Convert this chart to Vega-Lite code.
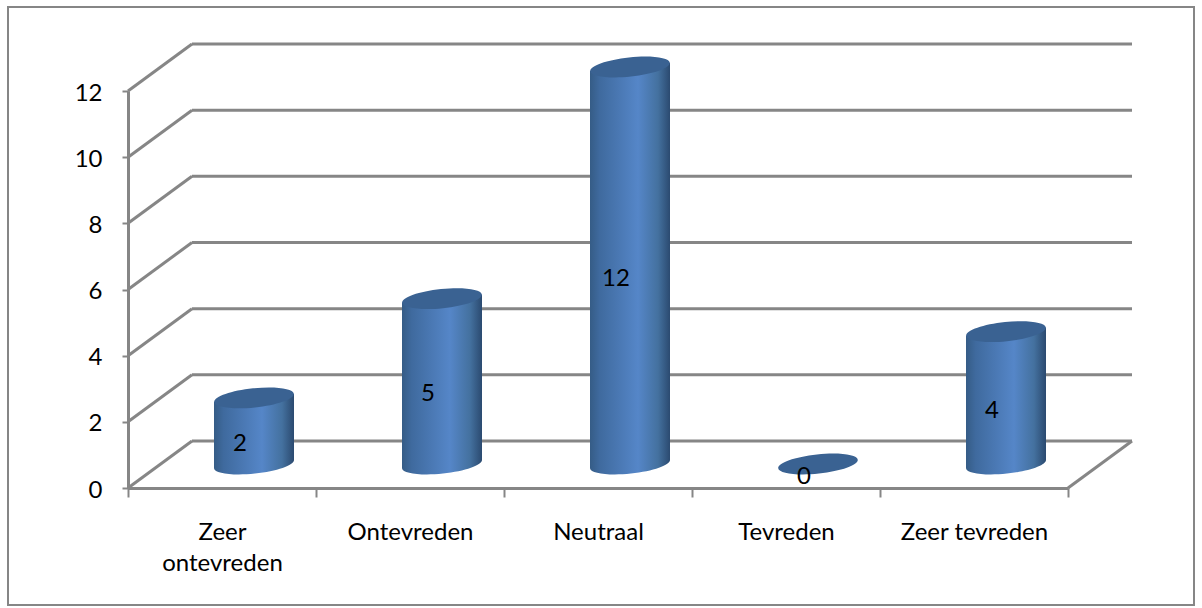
{
  "$schema": "https://vega.github.io/schema/vega-lite/v6.json",
  "width": 1186,
  "height": 598,
  "padding": {"left": 8, "top": 7, "right": 8, "bottom": 3},
  "autosize": "none",
  "background": "white",
  "config": {
    "view": {"stroke": "#868686", "strokeWidth": 2},
    "font": "Lato"
  },
  "datasets": {
    "answers": [
      {"category": "Zeer ontevreden", "count": 2},
      {"category": "Ontevreden", "count": 5},
      {"category": "Neutraal", "count": 12},
      {"category": "Tevreden", "count": 0},
      {"category": "Zeer tevreden", "count": 4}
    ],
    "ticks": [
      {"tick": 0}, {"tick": 2}, {"tick": 4}, {"tick": 6}, {"tick": 8}, {"tick": 10}, {"tick": 12}
    ]
  },
  "resolve": {"scale": {"x": "independent"}},
  "layer": [
    {
      "description": "Back wall grid lines",
      "data": {"name": "ticks"},
      "mark": {"type": "rule", "stroke": "#868686", "strokeWidth": 3, "xOffset": 64, "x2Offset": 64, "yOffset": -47},
      "encoding": {
        "x": {"datum": 0, "type": "quantitative", "axis": null, "scale": {"domain": [0, 5], "range": [120, 1060]}},
        "x2": {"datum": 5},
        "y": {"field": "tick", "type": "quantitative", "scale": {"domain": [0, 12], "range": [481, 84]},
          "axis": {
            "title": null, "values": [0, 2, 4, 6, 8, 10, 12], "grid": false, "offset": -120,
            "domainColor": "#868686", "domainWidth": 3, "tickColor": "#868686", "tickWidth": 2, "tickSize": 6,
            "labelFont": "Lato", "labelFontSize": 24, "labelColor": "#000000", "labelPadding": 20, "labelOffset": 2
          }
        }
      }
    },
    {
      "description": "Side wall diagonals",
      "data": {"name": "ticks"},
      "mark": {"type": "rule", "stroke": "#868686", "strokeWidth": 3, "x2Offset": 64, "y2Offset": -47},
      "encoding": {
        "x": {"datum": 0, "type": "quantitative", "axis": null, "scale": {"domain": [0, 5], "range": [120, 1060]}},
        "x2": {"datum": 0},
        "y": {"field": "tick", "type": "quantitative"},
        "y2": {"field": "tick"}
      }
    },
    {
      "description": "Floor edge on the right",
      "data": {"name": "ticks"},
      "transform": [{"filter": "datum.tick === 0"}],
      "mark": {"type": "rule", "stroke": "#868686", "strokeWidth": 3, "x2Offset": 64, "y2Offset": -47},
      "encoding": {
        "x": {"datum": 5, "type": "quantitative", "axis": null, "scale": {"domain": [0, 5], "range": [120, 1060]}},
        "x2": {"datum": 5},
        "y": {"field": "tick", "type": "quantitative"},
        "y2": {"field": "tick"}
      }
    },
    {
      "description": "Category axis along the front edge, with the rounded cylinder bases",
      "data": {"name": "answers"},
      "transform": [{"filter": "datum.count > 0"}],
      "mark": {
        "type": "point", "filled": true, "opacity": 1, "xOffset": 32, "yOffset": -24,
        "shape": "M-1,-0.3L1,-0.3L1,-0.105A1,0.24,-6,0,1,-1,0.105Z", "size": 6400,
        "fill": {"x1": 0, "x2": 1, "y1": 0, "y2": 0, "gradient": "linear", "stops": [
          {"offset": 0, "color": "#355c86"},
          {"offset": 0.12, "color": "#3f6a9e"},
          {"offset": 0.6, "color": "#5586c8"},
          {"offset": 0.85, "color": "#44719f"},
          {"offset": 1, "color": "#2b4a70"}
        ]}
      },
      "encoding": {
        "x": {
          "field": "category", "type": "nominal", "sort": null,
          "scale": {"type": "band", "domain": ["Zeer ontevreden", "Ontevreden", "Neutraal", "Tevreden", "Zeer tevreden"], "range": [120, 1060], "paddingInner": 0, "paddingOuter": 0},
          "axis": {
            "title": null, "labelAngle": 0, "offset": -117, "tickBand": "extent", "grid": false,
            "domainColor": "#868686", "domainWidth": 3, "tickColor": "#868686", "tickWidth": 2, "tickSize": 9,
            "labelFont": "Lato", "labelFontSize": 24, "labelColor": "#000000", "labelPadding": 23,
            "labelLineHeight": 31, "labelLimit": 300,
            "labelExpr": "datum.label === 'Zeer ontevreden' ? ['Zeer', 'ontevreden'] : datum.label"
          }
        },
        "y": {"datum": 0, "type": "quantitative"}
      }
    },
    {
      "description": "Cylinder bodies",
      "data": {"name": "answers"},
      "transform": [{"filter": "datum.count > 0"}],
      "mark": {
        "type": "bar", "width": 80, "xOffset": 32, "yOffset": -20, "y2Offset": -28,
        "fill": {"x1": 0, "x2": 1, "y1": 0, "y2": 0, "gradient": "linear", "stops": [
          {"offset": 0, "color": "#355c86"},
          {"offset": 0.12, "color": "#3f6a9e"},
          {"offset": 0.6, "color": "#5586c8"},
          {"offset": 0.85, "color": "#44719f"},
          {"offset": 1, "color": "#2b4a70"}
        ]}
      },
      "encoding": {
        "x": {
          "field": "category", "type": "nominal", "sort": null, "axis": null,
          "scale": {"type": "band", "domain": ["Zeer ontevreden", "Ontevreden", "Neutraal", "Tevreden", "Zeer tevreden"], "range": [120, 1060], "paddingInner": 0, "paddingOuter": 0}
        },
        "y": {"field": "count", "type": "quantitative", "stack": null},
        "y2": {"datum": 0}
      }
    },
    {
      "description": "Slanted collars joining each body to its tilted top",
      "data": {"name": "answers"},
      "transform": [{"filter": "datum.count > 0"}],
      "mark": {
        "type": "point", "filled": true, "opacity": 1, "xOffset": 32, "yOffset": -24,
        "shape": "M-1,0.105L1,-0.105L1,0.3L-1,0.3Z", "size": 6400,
        "fill": {"x1": 0, "x2": 1, "y1": 0, "y2": 0, "gradient": "linear", "stops": [
          {"offset": 0, "color": "#355c86"},
          {"offset": 0.12, "color": "#3f6a9e"},
          {"offset": 0.6, "color": "#5586c8"},
          {"offset": 0.85, "color": "#44719f"},
          {"offset": 1, "color": "#2b4a70"}
        ]}
      },
      "encoding": {
        "x": {
          "field": "category", "type": "nominal", "sort": null, "axis": null,
          "scale": {"type": "band", "domain": ["Zeer ontevreden", "Ontevreden", "Neutraal", "Tevreden", "Zeer tevreden"], "range": [120, 1060], "paddingInner": 0, "paddingOuter": 0}
        },
        "y": {"field": "count", "type": "quantitative"}
      }
    },
    {
      "description": "Cylinder tops",
      "data": {"name": "answers"},
      "mark": {
        "type": "point", "filled": true, "opacity": 1, "xOffset": 32, "yOffset": -24, "angle": -6,
        "shape": "M-1,0A1,0.24,0,1,1,1,0A1,0.24,0,1,1,-1,0Z", "size": 6400, "fill": "#3a6292"
      },
      "encoding": {
        "x": {
          "field": "category", "type": "nominal", "sort": null, "axis": null,
          "scale": {"type": "band", "domain": ["Zeer ontevreden", "Ontevreden", "Neutraal", "Tevreden", "Zeer tevreden"], "range": [120, 1060], "paddingInner": 0, "paddingOuter": 0}
        },
        "y": {"field": "count", "type": "quantitative"}
      }
    },
    {
      "description": "Value labels placed halfway up each cylinder",
      "data": {"name": "answers"},
      "transform": [{"calculate": "datum.count / 2", "as": "middle"}],
      "mark": {"type": "text", "font": "Lato", "fontSize": 24, "color": "#000000", "xOffset": 18, "yOffset": -11, "align": "center", "baseline": "middle"},
      "encoding": {
        "x": {
          "field": "category", "type": "nominal", "sort": null, "axis": null,
          "scale": {"type": "band", "domain": ["Zeer ontevreden", "Ontevreden", "Neutraal", "Tevreden", "Zeer tevreden"], "range": [120, 1060], "paddingInner": 0, "paddingOuter": 0}
        },
        "y": {"field": "middle", "type": "quantitative"},
        "text": {"field": "count", "type": "quantitative"}
      }
    }
  ]
}
